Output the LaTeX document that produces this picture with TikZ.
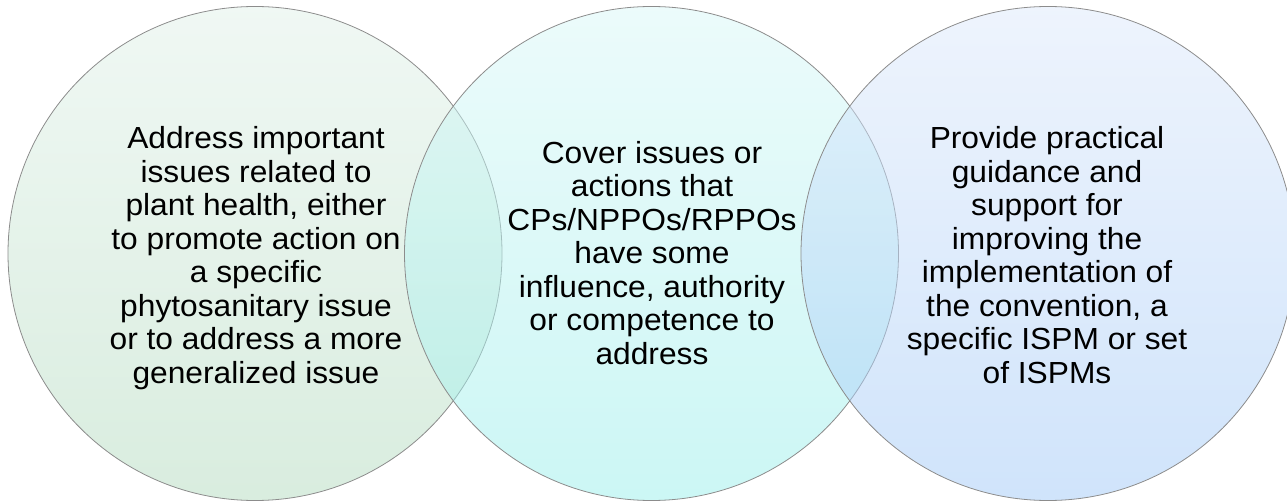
\documentclass[tikz,border=0pt]{standalone}
\usepackage{fontspec}
\setmainfont[FakeStretch=1.04]{Liberation Sans}
\definecolor{gTop}{RGB}{225,241,233}
\definecolor{gBot}{RGB}{179,219,191}
\definecolor{cTop}{RGB}{217,247,247}
\definecolor{cBot}{RGB}{153,239,235}
\definecolor{bTop}{RGB}{221,233,251}
\definecolor{bBot}{RGB}{161,201,247}
\definecolor{edge}{RGB}{140,140,140}
\begin{document}
\begin{tikzpicture}[x=1pt,y=-1pt,
  venn/.style={circle, inner sep=0pt, minimum size=494pt, draw=edge, line width=0.8pt, fill opacity=0.5, draw opacity=1},
  lbl/.style={align=center, font=\fontsize{30.5}{33.5}\selectfont, text=black, inner sep=0pt}]
\useasboundingbox (0,0) rectangle (1287,502);
\node[venn, top color=gTop, bottom color=gBot] (c1) at (255,253.5) {};
\node[venn, top color=cTop, bottom color=cBot] (c2) at (651.5,253.5) {};
\node[venn, top color=bTop, bottom color=bBot] (c3) at (1048,253.5) {};
\node[lbl] (t1) at (256,258) {Address important\\issues related to\\plant health, either\\to promote action on\\a specific\\phytosanitary issue\\or to address a more\\generalized issue};
\node[lbl] (t2) at (652,253) {Cover issues or\\actions that\\CPs/NPPOs/RPPOs\\have some\\influence, authority\\or competence to\\address};
\node[lbl] (t3) at (1047,255) {Provide practical\\guidance and\\support for\\improving the\\implementation of\\the convention, a\\specific ISPM or set\\of ISPMs};
\end{tikzpicture}
\end{document}
